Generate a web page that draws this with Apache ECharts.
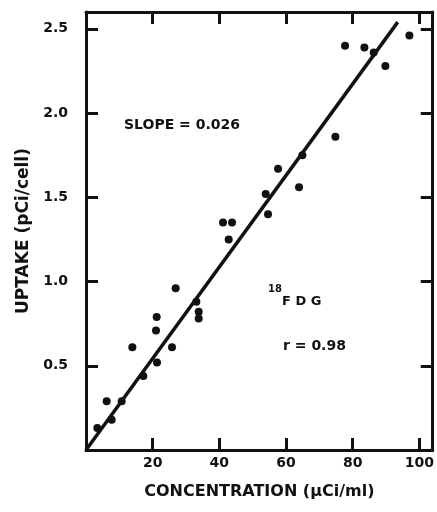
<!DOCTYPE html>
<html>
<head>
<meta charset="utf-8">
<script src="https://cdn.jsdelivr.net/npm/echarts@6/dist/echarts.min.js"></script>
<style>
  html, body {margin: 0; padding: 0; background: #fff;}
  #chart {width: 437px; height: 512px;}
</style>
</head>
<body>
<div id="chart"></div>
<script>
// concentration (uCi/ml) vs uptake (pCi/cell)
const concentration = [
  3.4, 6.2, 7.7, 10.7, 13.9, 17.2, 21.0, 21.2, 21.3, 25.8,
  26.9, 33.1, 33.8, 33.8, 41.1, 42.8, 43.8, 53.9, 54.6, 57.6,
  63.9, 64.9, 74.8, 77.7, 83.5, 86.3, 89.8, 97.0
];
const uptake = [
  0.13, 0.29, 0.18, 0.29, 0.61, 0.44, 0.71, 0.79, 0.52, 0.61,
  0.96, 0.88, 0.82, 0.78, 1.35, 1.25, 1.35, 1.52, 1.40, 1.67,
  1.56, 1.75, 1.86, 2.40, 2.39, 2.36, 2.28, 2.46
];
// fitted line end points
const fitX = [0, 93.5];
const fitY = [0, 2.54];

const xTicks = [20, 40, 60, 80, 100];
const yTicks = [0.5, 1.0, 1.5, 2.0, 2.5];

const font = 'DejaVu Sans';
const ink = '#111';

const chart = echarts.init(document.getElementById('chart'));

const axisBase = {
  axisLine: {show: true, onZero: false, lineStyle: {color: ink, width: 3}},
  axisTick: {show: true, inside: true, length: 12, lineStyle: {color: ink, width: 3}},
  splitLine: {show: false}
};

chart.setOption({
  animation: false,
  backgroundColor: '#fff',
  grid: {left: 86, top: 12, right: 2, bottom: 62},
  xAxis: [{
    ...axisBase,
    type: 'value', min: 0, max: 104, interval: 20, position: 'bottom',
    axisLabel: {
      margin: 6, color: ink, fontFamily: font, fontWeight: 'bold', fontSize: 14,
      formatter: v => xTicks.includes(v) ? String(v) : ''
    },
    name: 'CONCENTRATION (\u03bcCi/ml)',
    nameLocation: 'middle', nameGap: 34,
    nameTextStyle: {color: ink, fontFamily: font, fontWeight: 'bold', fontSize: 16}
  }, {
    ...axisBase,
    type: 'value', min: 0, max: 104, interval: 20, position: 'top',
    axisLabel: {show: false}
  }],
  yAxis: [{
    ...axisBase,
    type: 'value', min: 0, max: 2.6, interval: 0.5, position: 'left',
    axisLabel: {
      margin: 18, color: ink, fontFamily: font, fontWeight: 'bold', fontSize: 14,
      formatter: v => yTicks.includes(v) ? v.toFixed(1) : ''
    },
    name: 'UPTAKE (pCi/cell)',
    nameLocation: 'middle', nameGap: 54,
    nameTextStyle: {color: ink, fontFamily: font, fontWeight: 'bold', fontSize: 17}
  }, {
    ...axisBase,
    type: 'value', min: 0, max: 2.6, interval: 0.5, position: 'right',
    axisLabel: {show: false}
  }],
  series: [{
    type: 'line',
    data: fitX.map((x, i) => [x, fitY[i]]),
    showSymbol: false,
    lineStyle: {color: ink, width: 3.5},
    z: 3
  }, {
    type: 'scatter',
    data: concentration.map((x, i) => [x, uptake[i]]),
    symbol: 'circle',
    symbolSize: 8,
    itemStyle: {color: ink, opacity: 1},
    z: 4
  }],
  graphic: [{
    type: 'text', left: 124, top: 118,
    style: {text: 'SLOPE = 0.026', fill: ink, font: 'bold 14px "DejaVu Sans"'}
  }, {
    type: 'text', left: 268, top: 284,
    style: {text: '18', fill: ink, font: 'bold 10px "DejaVu Sans"'}
  }, {
    type: 'text', left: 282, top: 295,
    style: {text: 'F D G', fill: ink, font: 'bold 13px "DejaVu Sans"'}
  }, {
    type: 'text', left: 283, top: 339,
    style: {text: 'r = 0.98', fill: ink, font: 'bold 14px "DejaVu Sans"'}
  }]
});
</script>
</body>
</html>
